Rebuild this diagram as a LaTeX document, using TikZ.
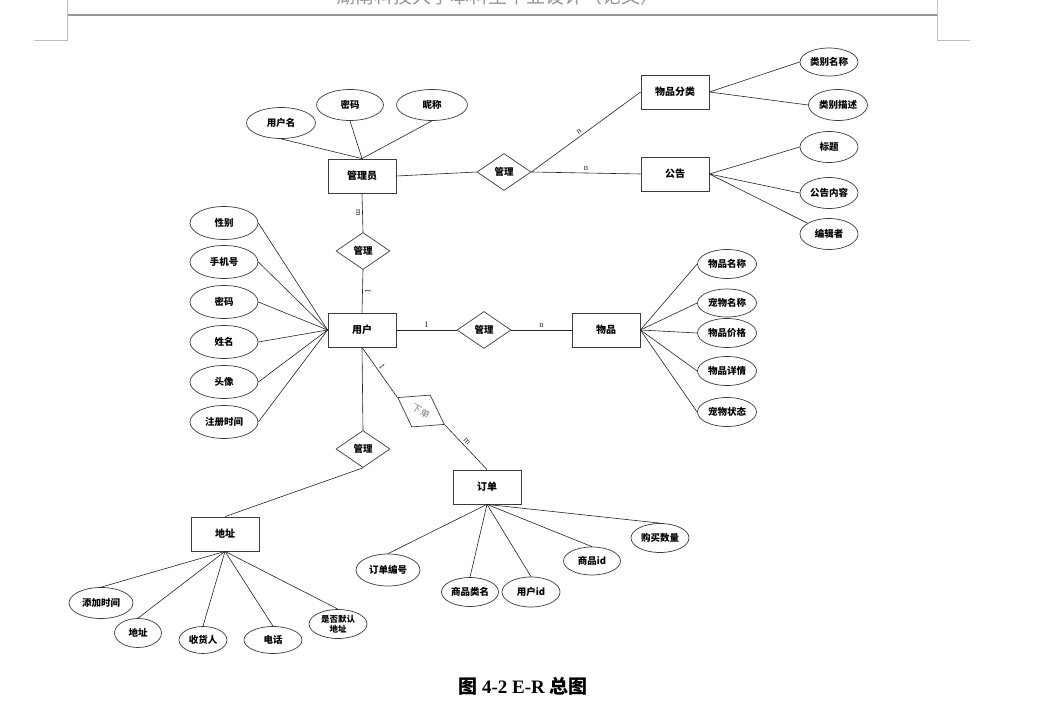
\documentclass[tikz,border=0pt]{standalone}
\usepackage{fontspec}
\setmainfont{Liberation Serif}
\newfontfamily\cjk{Noto Sans CJK SC}
\usetikzlibrary{shapes.geometric}
\definecolor{cline} {RGB}{35,35,35}
\definecolor{cedge} {RGB}{60,60,60}
\definecolor{chead} {RGB}{150,150,150}
\definecolor{cmark} {RGB}{190,190,190}
\tikzset{
  ent/.style={rectangle, draw=cedge, line width=0.8pt,
              minimum width=68pt, minimum height=34pt, inner sep=1pt,
              font=\cjk\bfseries\fontsize{10}{11}\selectfont},
  attr/.style={ellipse, draw=cedge, line width=0.7pt,
               minimum width=#1, minimum height=31pt, inner sep=0pt,
               align=center, font=\cjk\bfseries\fontsize{9.5}{10}\selectfont},
  attr/.default=67pt,
  rel/.style={diamond, draw=cedge, line width=0.7pt, aspect=1.45,
              minimum width=54pt, minimum height=37pt, inner sep=0pt,
              font=\cjk\bfseries\fontsize{9.5}{10}\selectfont},
  link/.style={draw=cline, line width=0.6pt},
  card/.style={font=\fontsize{8.5}{9}\selectfont, text=cline, inner sep=2pt},
}

\begin{document}
\begin{tikzpicture}[x=1pt, y=-1pt]
  \useasboundingbox (0,0) rectangle (1045,708);

  % ── Page header ────────────────────────────────────────────────────────────
  \node[font=\cjk\fontsize{19}{19}\selectfont, text=chead] at (498,-4) (head)
    {湖南科技大学本科生毕业设计（论文）};
  \draw[chead, line width=1.2pt] (67,15) -- (937,15);
  \draw[cmark, line width=0.6pt] (67,0) -- (67,40) -- (34,40);
  \draw[cmark, line width=0.6pt] (937,0) -- (937,40) -- (970,40);

  % ── Entities ───────────────────────────────────────────────────────────────
  \node[ent] at (362,176) (admin)  {管理员};
  \node[ent] at (675,92)  (cat)    {物品分类};
  \node[ent] at (675,174) (notice) {公告};
  \node[ent] at (362,330) (user)   {用户};
  \node[ent] at (606,330) (goods)  {物品};
  \node[ent] at (487,487) (order)  {订单};
  \node[ent] at (225,534) (addr)   {地址};

  % ── Relationships ──────────────────────────────────────────────────────────
  \node[rel] at (504,172) (r_admin) {管理};
  \node[rel] at (363,251) (r_au)    {管理};
  \node[rel] at (484,330) (r_goods) {管理};
  \node[rel] at (363,449) (r_addr)  {管理};
  \node[rel, rotate=-30, font=\cjk\fontsize{9.5}{10}\selectfont, text=gray]
    at (421,411) (r_order) {下单};

  % ── Attributes ─────────────────────────────────────────────────────────────
  \node[attr=69pt] at (281,123) (a_uname) {用户名};
  \node[attr]      at (350,105) (a_apwd)  {密码};
  \node[attr=71pt] at (432,105) (a_nick)  {昵称};

  \node[attr=58pt, minimum height=28pt] at (829,62)  (c_name) {类别名称};
  \node[attr=59pt] at (838,105) (c_desc)  {类别描述};
  \node[attr=58pt] at (829,147) (n_title) {标题};
  \node[attr=58pt] at (829,193) (n_text)  {公告内容};
  \node[attr=58pt] at (829,234) (n_edit)  {编辑者};

  \node[attr=68pt, minimum height=33pt] at (224,223) (u_sex)   {性别};
  \node[attr=68pt, minimum height=33pt] at (224,262) (u_phone) {手机号};
  \node[attr=68pt, minimum height=33pt] at (224,302) (u_pwd)   {密码};
  \node[attr=68pt, minimum height=33pt] at (224,342) (u_name)  {姓名};
  \node[attr=68pt, minimum height=33pt] at (224,382) (u_head)  {头像};
  \node[attr=68pt, minimum height=33pt] at (224,422) (u_time)  {注册时间};

  \node[attr=59pt, minimum height=29pt] at (727,264) (g_name)  {物品名称};
  \node[attr=59pt, minimum height=28pt] at (727,303) (g_pet)   {宠物名称};
  \node[attr=59pt, minimum height=29pt] at (727,333) (g_price) {物品价格};
  \node[attr=59pt, minimum height=29pt] at (727,371) (g_info)  {物品详情};
  \node[attr=59pt, minimum height=29pt] at (727,412) (g_state) {宠物状态};

  \node[attr=64pt, minimum height=32pt] at (388,570) (o_no)    {订单编号};
  \node[attr=57pt, minimum height=29pt] at (470,592) (o_cat)   {商品类名};
  \node[attr=58pt, minimum height=30pt] at (531,592) (o_uid)   {用户id};
  \node[attr=57pt, minimum height=28pt] at (592,561) (o_gid)   {商品id};
  \node[attr=58pt, minimum height=29pt] at (660,538) (o_num)   {购买数量};

  \node[attr=64pt, minimum height=31pt] at (101,603) (d_time)  {添加时间};
  \node[attr=47pt, minimum height=29pt] at (138,633) (d_addr)  {地址};
  \node[attr=48pt, minimum height=27pt] at (203,640) (d_who)   {收货人};
  \node[attr=58pt, minimum height=27pt] at (273,640) (d_tel)   {电话};
  \node[attr=58pt, minimum height=29pt, font=\cjk\bfseries\fontsize{8.5}{10}\selectfont]
    at (338,624) (d_def) {是否默认\\地址};

  % ── Connectors ─────────────────────────────────────────────────────────────
  \foreach \a in {a_uname, a_apwd, a_nick}
    \draw[link] (\a.south) -- (admin.north);
  \draw[link] (admin.east) -- (r_admin.west);
  \draw[link] (r_admin.east) -- node[card, pos=0.46, above, sloped] {n} (cat.west);
  \draw[link] (r_admin.east) -- node[card, pos=0.5, above] {n} (notice.west);
  \foreach \a in {c_name, c_desc}
    \draw[link] (cat.east) -- (\a.west);
  \foreach \a in {n_title, n_text}
    \draw[link] (notice.east) -- (\a.west);
  \draw[link] (notice.east) -- (n_edit);

  \draw[link] (admin.south) -- node[card, below, sloped] {m} (r_au.north);
  \draw[link] (r_au.south) -- node[card, below, sloped] {1} (user.north);
  \foreach \a in {u_sex, u_phone, u_pwd, u_name, u_head, u_time}
    \draw[link] (\a.east) -- (user.west);

  \draw[link] (user.east) -- node[card, above] {1} (r_goods.west);
  \draw[link] (r_goods.east) -- node[card, above] {n} (goods.west);
  \foreach \a in {g_name, g_pet, g_price, g_info, g_state}
    \draw[link] (goods.east) -- (\a.west);

  \draw[link] (user.south) -- node[card, pos=0.45, above, sloped] {1} (r_order.west);
  \draw[link] (r_order.east) -- node[card, pos=0.45, above, sloped] {m} (order.north);
  \foreach \a in {o_no, o_cat, o_uid, o_gid, o_num}
    \draw[link] (order.south) -- (\a.north);

  \draw[link] (user.south) -- (r_addr.north);
  \draw[link] (r_addr.south) -- (addr.north);
  \foreach \a in {d_time, d_addr, d_who, d_tel, d_def}
    \draw[link] (addr.south) -- (\a.north);

  % ── Caption ────────────────────────────────────────────────────────────────
  \node[font=\bfseries\fontsize{19}{20}\selectfont] at (523,686) (caption)
    {{\cjk 图} 4-2 E-R {\cjk 总图}};
\end{tikzpicture}
\end{document}
